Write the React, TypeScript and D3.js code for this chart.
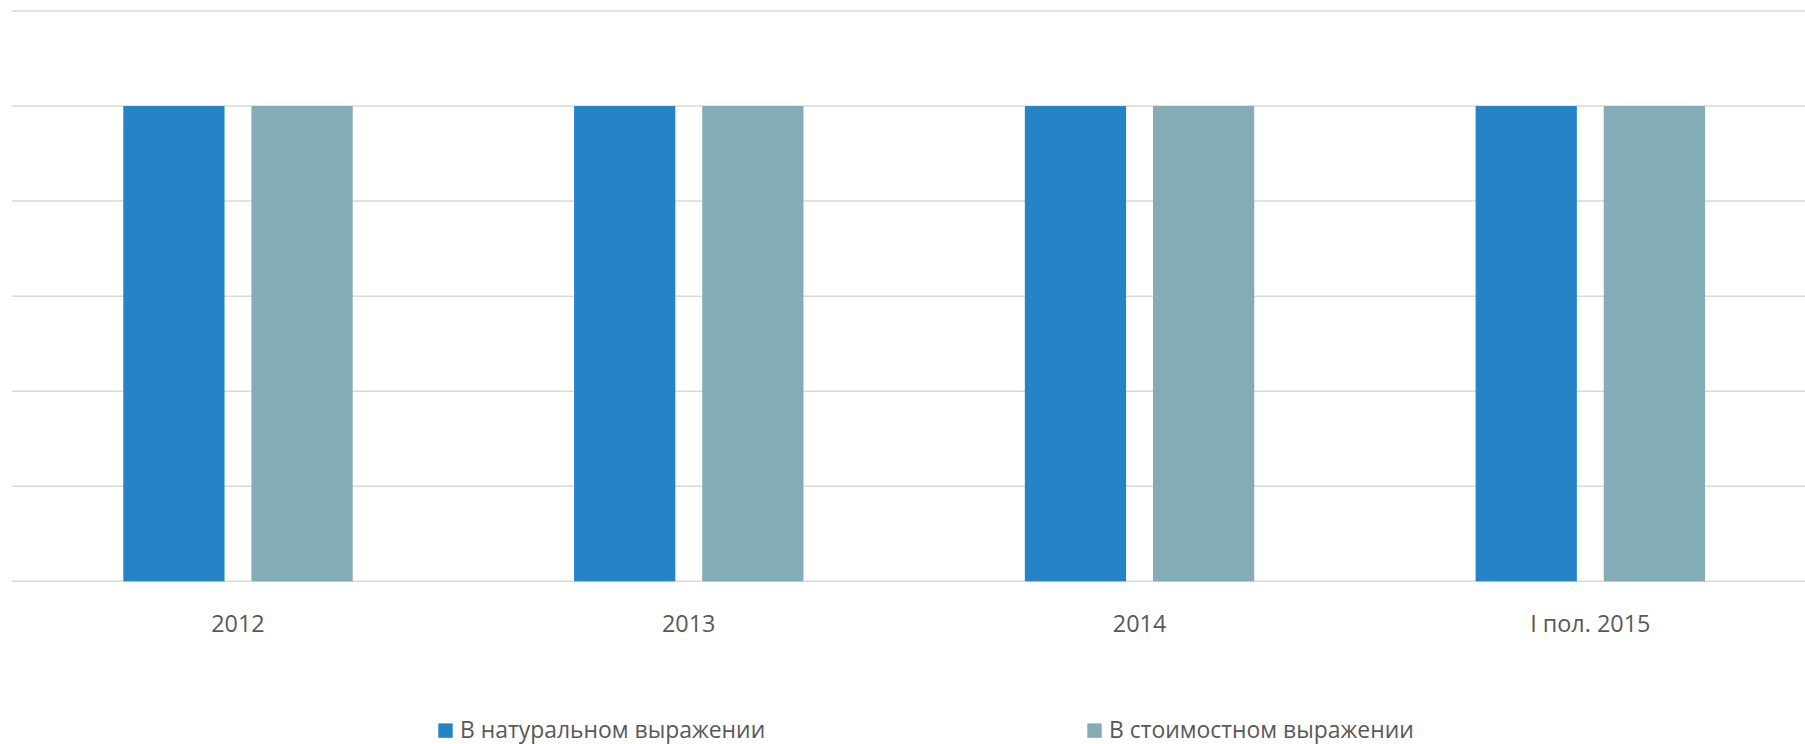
import React from "react";
import * as d3 from "d3";

const categories = ["2012", "2013", "2014", "I пол. 2015"];
const seriesNames = ["В натуральном выражении", "В стоимостном выражении"];
const naturalValues = [100, 100, 100, 100];
const costValues = [100, 100, 100, 100];
const yTicks = [0, 20, 40, 60, 80, 100, 120];
const colors = ["#2683C6", "#84ACB6"];

const W = 1805;
const H = 744;

export default function App() {
  const x = d3.scaleBand<string>().domain(categories).range([12.6, 1815.7]).paddingInner(0).paddingOuter(0);
  const bw = x.bandwidth();
  const groupW = 229.4;
  const xs = d3
    .scaleBand<string>()
    .domain(seriesNames)
    .range([(bw - groupW) / 2, (bw + groupW) / 2])
    .paddingInner(0.21)
    .paddingOuter(0);
  const y = d3.scaleLinear().domain([0, 120]).range([581.3, 11]);
  const series = [naturalValues, costValues];
  const font = "'Open Sans', 'Noto Sans', sans-serif";

  return (
    <div style={{ position: "fixed", left: 0, top: 0, width: W, height: H, overflow: "hidden", background: "#fff" }}>
      <svg width={W} height={H} style={{ display: "block" }}>
        <rect x={0} y={0} width={W} height={H} fill="#fff" />
        {yTicks.map((t) => (
          <line key={t} x1={12} x2={W} y1={y(t)} y2={y(t)} stroke="#d9d9d9" strokeWidth={1.5} />
        ))}
        {categories.map((c, i) => (
          <g key={c} transform={`translate(${x(c)},0)`}>
            {seriesNames.map((s, j) => (
              <rect
                key={s}
                x={xs(s)}
                y={y(series[j][i])}
                width={xs.bandwidth()}
                height={y(0) - y(series[j][i])}
                fill={colors[j]}
              />
            ))}
            <text
              x={bw / 2}
              y={632.3}
              textAnchor="middle"
              fontFamily={font}
              fontSize={23.4}
              fill="#595959"
            >
              {c}
            </text>
          </g>
        ))}
        {seriesNames.map((s, j) => {
          const lx = j === 0 ? 438.3 : 1087.3;
          return (
            <g key={s}>
              <rect x={lx} y={723.4} width={14.4} height={14.4} fill={colors[j]} />
              <text x={lx + 21.7} y={737.7} fontFamily={font} fontSize={22.9} fill="#595959">
                {s}
              </text>
            </g>
          );
        })}
      </svg>
    </div>
  );
}
